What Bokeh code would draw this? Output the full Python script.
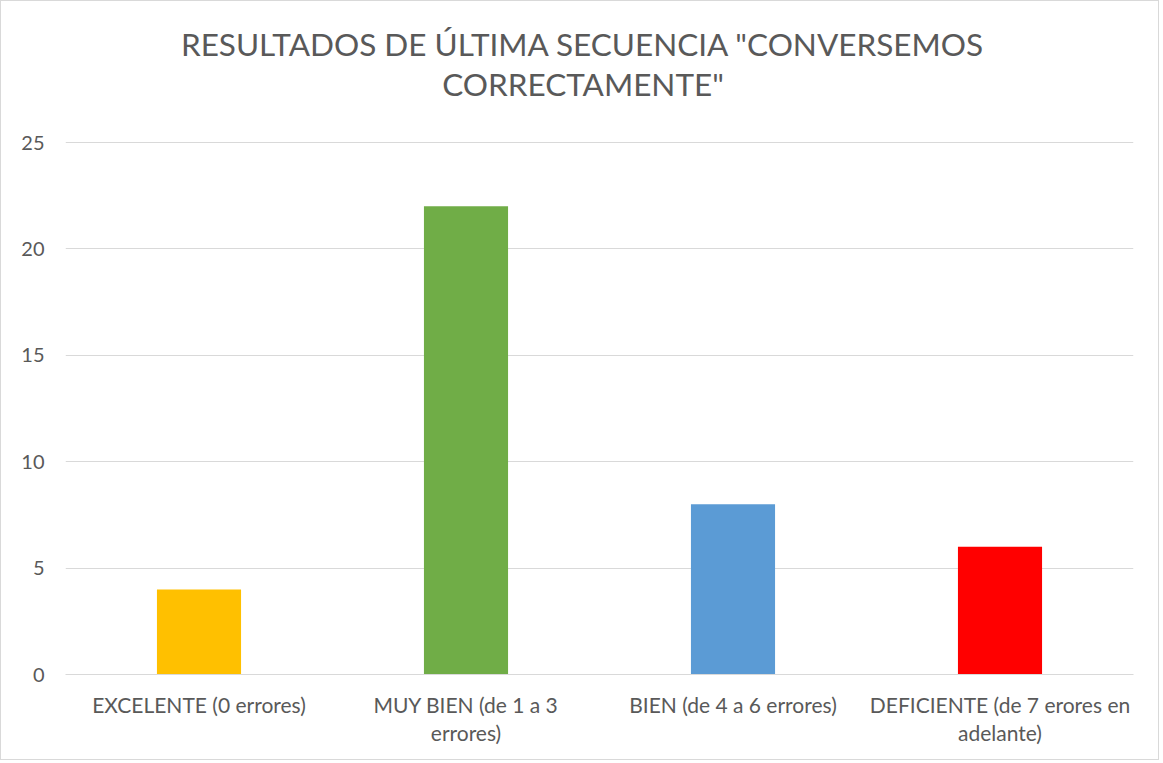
from bokeh.plotting import figure
from bokeh.models import Label, FactorRange, Range1d, ColumnDataSource, FixedTicker
from bokeh.embed import file_html
from bokeh.resources import INLINE

categories = ["EXCELENTE (0 errores)", "MUY BIEN (de 1 a 3\nerrores)",
              "BIEN (de 4 a 6 errores)", "DEFICIENTE (de 7 erores en\nadelante)"]
values = [4, 22, 8, 6]
colors = ["#FFC000", "#70AD47", "#5B9BD5", "#FF0000"]
y_ticks = [0, 5, 10, 15, 20, 25]
title_lines = ["RESULTADOS DE ÚLTIMA SECUENCIA \"CONVERSEMOS", "CORRECTAMENTE\""]

FONT = "Lato"
GREY = "#595959"

W, H = 1159, 760
LEFT, RIGHT, BOTTOM = 64, 27, 87
PLOT_TOP = 141            # pixel row of value 25
Y_MAX = y_ticks[-1]
px_per_unit = (H - BOTTOM - PLOT_TOP) / Y_MAX
y_end = Y_MAX + PLOT_TOP / px_per_unit   # room above for the title

src = ColumnDataSource(dict(cat=categories, val=values, color=colors))

p = figure(width=W, height=H, output_backend="svg", toolbar_location=None,
           x_range=FactorRange(*categories, range_padding=0), y_range=Range1d(0, y_end),
           min_border_left=LEFT, min_border_right=RIGHT, min_border_top=0,
           min_border_bottom=BOTTOM)

p.vbar(x="cat", top="val", width=0.315, color="color", source=src, line_color=None)

# title lines, placed in the empty band above the 25 gridline
title_x = (581.5 - LEFT) / ((W - LEFT - RIGHT) / len(categories))
for line, py in zip(title_lines, [42.5, 82.5]):
    p.add_layout(Label(x=title_x, y=Y_MAX + (PLOT_TOP - py) / px_per_unit, text=line,
                       text_align="center", text_baseline="middle", text_font=FONT,
                       text_font_size="31.5px", text_color=GREY))

p.outline_line_color = None
p.xgrid.grid_line_color = None
p.ygrid.grid_line_color = "#D9D9D9"
p.ygrid.grid_line_width = 1

p.yaxis.ticker = FixedTicker(ticks=y_ticks)
p.yaxis.axis_line_color = None
p.yaxis.major_tick_line_color = None
p.yaxis.minor_tick_line_color = None
p.yaxis.major_label_text_font = FONT
p.yaxis.major_label_text_font_size = "20px"
p.yaxis.major_label_text_color = GREY
p.yaxis.major_label_standoff = 15

p.xaxis.axis_line_color = "#D9D9D9"
p.xaxis.major_tick_line_color = None
p.xaxis.minor_tick_line_color = None
p.xaxis.major_label_text_font = FONT
p.xaxis.major_label_text_font_size = "21px"
p.xaxis.major_label_text_color = GREY
p.xaxis.major_label_text_line_height = 1.12
p.xaxis.major_label_standoff = 11

p.styles = {"border": "1px solid #D9D9D9"}

open("out.html", "w").write(file_html(p, INLINE))
